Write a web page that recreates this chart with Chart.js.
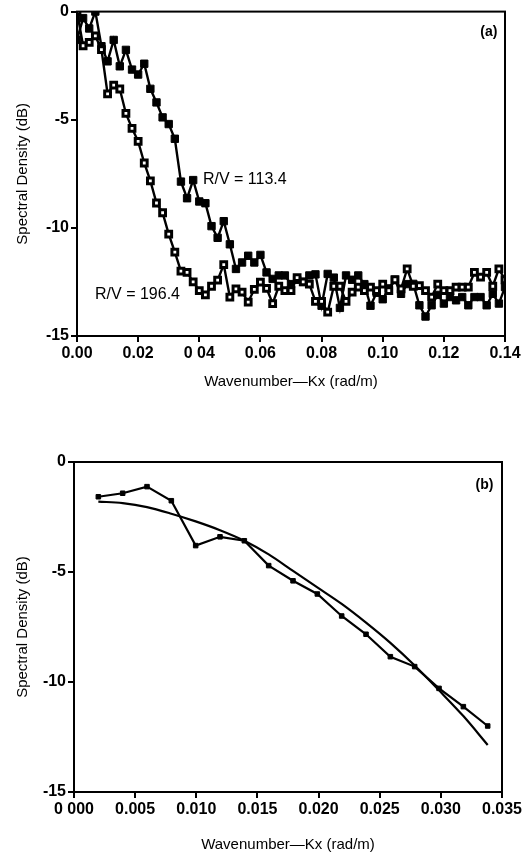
<!DOCTYPE html>
<html>
<head>
<meta charset="utf-8">
<script src="https://cdn.jsdelivr.net/npm/chart.js@4/dist/chart.umd.min.js"></script>
<style>
	body { margin: 0; background: #fff; }
	.wrap { position: absolute; left: 0; }
</style>
</head>
<body>
<div class="wrap" style="top:0"><canvas id="chartA" width="527" height="420"></canvas></div>
<div class="wrap" style="top:420px"><canvas id="chartB" width="527" height="442"></canvas></div>
<script>
// (a) 전체 스펙트럼 - 두 R/V 값
const kxA = [0, 0.002, 0.004, 0.006, 0.008, 0.010, 0.012, 0.014, 0.016, 0.018,
	0.020, 0.022, 0.024, 0.026, 0.028, 0.030, 0.032, 0.034, 0.036, 0.038,
	0.040, 0.042, 0.044, 0.046, 0.048, 0.050, 0.052, 0.054, 0.056, 0.058,
	0.060, 0.062, 0.064, 0.066, 0.068, 0.070, 0.072, 0.074, 0.076, 0.078,
	0.080, 0.082, 0.084, 0.086, 0.088, 0.090, 0.092, 0.094, 0.096, 0.098,
	0.100, 0.102, 0.104, 0.106, 0.108, 0.110, 0.112, 0.114, 0.116, 0.118,
	0.120, 0.122, 0.124, 0.126, 0.128, 0.130, 0.132, 0.134, 0.136, 0.138, 0.140];
const rv113 = [-1.30, -0.30, -0.78, 0.00, -1.60, -2.30, -1.31, -2.53, -1.77, -2.68,
	-2.91, -2.41, -3.57, -4.20, -4.89, -5.20, -5.88, -7.86, -8.63, -7.79,
	-8.78, -8.86, -9.92, -10.46, -9.69, -10.76, -11.90, -11.60, -11.29, -11.60,
	-11.25, -12.06, -12.36, -12.20, -12.20, -12.60, -12.40, -12.50, -12.20, -12.15,
	-13.60, -12.13, -12.30, -13.70, -12.20, -12.40, -12.20, -12.60, -13.60, -13.00,
	-13.30, -12.80, -12.40, -13.05, -12.60, -12.59, -13.58, -14.10, -13.58, -13.10,
	-13.50, -13.20, -13.35, -13.20, -13.58, -13.20, -13.20, -13.58, -13.05, -13.50, -12.74];
const rv196 = [0.00, -1.58, -1.42, -1.12, -1.76, -3.80, -3.40, -3.58, -4.71, -5.40,
	-6.00, -7.00, -7.83, -8.85, -9.30, -10.29, -11.12, -12.00, -12.06, -12.50,
	-12.90, -13.10, -12.70, -12.42, -11.70, -13.20, -12.82, -12.97, -13.43, -12.84,
	-12.51, -12.80, -13.50, -12.70, -12.90, -12.90, -12.30, -12.50, -12.60, -13.40,
	-13.40, -13.90, -12.70, -12.70, -13.40, -12.97, -12.74, -12.90, -12.74, -12.90,
	-12.60, -12.90, -12.40, -12.82, -11.90, -12.70, -12.67, -12.90, -13.20, -12.60,
	-12.90, -12.90, -12.74, -12.74, -12.74, -12.06, -12.28, -12.06, -12.70, -11.90, -12.40];
const xTickValsA = [0, 0.02, 0.04, 0.06, 0.08, 0.10, 0.12, 0.14];
const xTickLabelsA = ['0.00', '0.02', '0 04', '0.06', '0.08', '0.10', '0.12', '0.14'];

// (b) 저파수 구간 - 측정값과 곡선 맞춤
const kxB = [0.00199, 0.00398, 0.00597, 0.00796, 0.00995, 0.01194, 0.01393, 0.01592, 0.01791,
	0.0199, 0.02189, 0.02388, 0.02587, 0.02786, 0.02985, 0.03184, 0.03383];
const measuredB = [-1.58, -1.42, -1.12, -1.76, -3.80, -3.40, -3.58, -4.71, -5.40,
	-6.00, -7.00, -7.83, -8.85, -9.30, -10.29, -11.12, -12.00];
const fittedB = [-1.80, -1.87, -2.05, -2.35, -2.70, -3.10, -3.58, -4.20, -4.95,
	-5.70, -6.45, -7.30, -8.22, -9.25, -10.38, -11.55, -12.86];
const xTickValsB = [0, 0.005, 0.010, 0.015, 0.020, 0.025, 0.030, 0.035];
const xTickLabelsB = ['0 000', '0.005', '0.010', '0.015', '0.020', '0.025', '0.030', '0.035'];

const yTickVals = [-15, -10, -5, 0];
const yTickLabels = ['-15', '-10', '-5', '0'];

Chart.defaults.font.family = "'Liberation Sans', Arial, sans-serif";
Chart.defaults.color = '#000';

const toPoints = (xs, ys) => xs.map((x, i) => ({ x: x, y: ys[i] }));

// 플롯 영역 테두리
const framePlugin = {
	id: 'frame',
	afterDatasetsDraw(chart) {
		const { ctx, chartArea } = chart;
		ctx.save();
		ctx.strokeStyle = '#000';
		ctx.lineWidth = 2;
		ctx.strokeRect(chartArea.left, chartArea.top, chartArea.right - chartArea.left, chartArea.bottom - chartArea.top);
		ctx.restore();
	}
};

// 그림 안 글자들
const notesPlugin = {
	id: 'notes',
	afterDatasetsDraw(chart, args, opts) {
		const { ctx, scales } = chart;
		ctx.save();
		ctx.fillStyle = '#000';
		ctx.textBaseline = 'middle';
		(opts.items || []).forEach(n => {
			ctx.font = n.font;
			ctx.textAlign = n.align || 'left';
			ctx.fillText(n.text, scales.x.getPixelForValue(n.x), scales.y.getPixelForValue(n.y));
		});
		ctx.restore();
	}
};

function makeScales(xVals, xLabels, xMax, yWidth, xHeight, xTitlePad) {
	return {
		x: {
			type: 'linear',
			min: 0,
			max: xMax,
			afterBuildTicks: s => { s.ticks = xVals.map(v => ({ value: v })); },
			afterFit: s => { s.height = xHeight; },
			ticks: {
				autoSkip: false,
				maxRotation: 0,
				padding: 2,
				font: { size: 16, weight: 'bold' },
				callback: (v, i) => xLabels[i]
			},
			grid: { drawOnChartArea: false, drawTicks: true, tickLength: 6, color: '#000', lineWidth: 2 },
			border: { display: false },
			title: {
				display: true,
				text: 'Wavenumber\u2014Kx (rad/m)',
				font: { size: 15 },
				padding: { top: 0, bottom: xTitlePad }
			}
		},
		y: {
			type: 'linear',
			min: -15,
			max: 0,
			afterBuildTicks: s => { s.ticks = yTickVals.map(v => ({ value: v })); },
			afterFit: s => { s.width = yWidth; },
			ticks: {
				padding: 2,
				font: { size: 16, weight: 'bold' },
				callback: (v, i) => yTickLabels[i]
			},
			grid: { drawOnChartArea: false, drawTicks: true, tickLength: 6, color: '#000', lineWidth: 2 },
			border: { display: false },
			title: {
				display: true,
				text: 'Spectral Density (dB)',
				font: { size: 15 },
				padding: { top: 14, bottom: 0 }
			}
		}
	};
}

new Chart(document.getElementById('chartA'), {
	type: 'line',
	data: {
		datasets: [
			{
				label: 'R/V = 196.4',
				data: toPoints(kxA, rv196),
				borderColor: '#000',
				borderWidth: 2.4,
				tension: 0,
				pointStyle: 'rect',
				pointRadius: 4.1,
				pointBackgroundColor: '#fff',
				pointBorderColor: '#000',
				pointBorderWidth: 3
			},
			{
				label: 'R/V = 113.4',
				data: toPoints(kxA, rv113),
				borderColor: '#000',
				borderWidth: 2.4,
				tension: 0,
				pointStyle: 'rect',
				pointRadius: 5.2,
				pointBackgroundColor: '#000',
				pointBorderColor: '#000',
				pointBorderWidth: 1
			}
		]
	},
	options: {
		responsive: false,
		animation: false,
		devicePixelRatio: 1,
		layout: { autoPadding: false, padding: { left: 0, top: 8, right: 22, bottom: 0 } },
		plugins: {
			legend: { display: false },
			tooltip: { enabled: false },
			notes: {
				items: [
					{ text: 'R/V = 113.4', x: 0.0412, y: -7.75, font: '16px "Liberation Sans", Arial, sans-serif' },
					{ text: 'R/V = 196.4', x: 0.0059, y: -13.1, font: '16px "Liberation Sans", Arial, sans-serif' },
					{ text: '(a)', x: 0.1375, y: -0.95, align: 'right', font: 'bold 14px "Liberation Sans", Arial, sans-serif' }
				]
			}
		},
		scales: makeScales(xTickValsA, xTickLabelsA, 0.14, 77, 84, 29)
	},
	plugins: [framePlugin, notesPlugin]
});

new Chart(document.getElementById('chartB'), {
	type: 'line',
	data: {
		datasets: [
			{
				label: 'measured',
				data: toPoints(kxB, measuredB),
				borderColor: '#000',
				borderWidth: 2.2,
				tension: 0,
				pointStyle: 'rect',
				pointRadius: 3.2,
				pointBackgroundColor: '#000',
				pointBorderColor: '#000',
				pointBorderWidth: 1
			},
			{
				label: 'fit',
				data: toPoints(kxB, fittedB),
				borderColor: '#000',
				borderWidth: 2.2,
				tension: 0.4,
				cubicInterpolationMode: 'monotone',
				pointRadius: 0
			}
		]
	},
	options: {
		responsive: false,
		animation: false,
		devicePixelRatio: 1,
		layout: { autoPadding: false, padding: { left: 0, top: 42, right: 25, bottom: 0 } },
		plugins: {
			legend: { display: false },
			tooltip: { enabled: false },
			notes: {
				items: [
					{ text: '(b)', x: 0.0343, y: -1.05, align: 'right', font: 'bold 14px "Liberation Sans", Arial, sans-serif' }
				]
			}
		},
		scales: makeScales(xTickValsB, xTickLabelsB, 0.035, 74, 70, 8)
	},
	plugins: [framePlugin, notesPlugin]
});
</script>
</body>
</html>
